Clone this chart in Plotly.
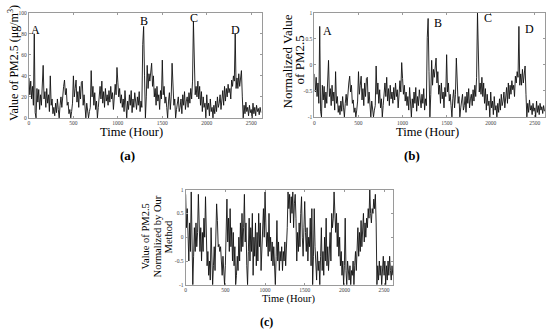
import plotly.graph_objects as go

# Hour grid (one reading every 10 hours)
hours = list(range(0, 2620, 10))

# PM2.5 concentration (ug/m3)
pm25 = [
    38, 22, 35, 18, 30, 12, 80, 5, 0, 28,
    15, 27, 8, 22, 12, 30, 50, 18, 25, 10,
    28, 14, 22, 6, 40, 12, 18, 4, 10, 2,
    14, 5, 18, 8, 0, 12, 20, 10, 24, 30,
    36, 22, 28, 12, 15, 4, 8, 0, 6, 14,
    40, 20, 28, 36, 15, 25, 10, 30, 18, 34,
    35, 12, 22, 8, 0, 14, 2, 0, 6, 10,
    45, 20, 30, 12, 24, 8, 16, 0, 10, 22,
    30, 18, 35, 14, 25, 10, 28, 16, 22, 12,
    26, 15, 30, 18, 24, 8, 20, 32, 22, 48,
    34, 20, 28, 14, 22, 10, 18, 6, 26, 12,
    0, 16, 8, 22, 12, 26, 5, 18, 10, 24,
    14, 8, 20, 12, 25, 6, 16, 10, 70, 87,
    40, 0, 20, 50, 28, 42, 35, 48, 52, 30,
    40, 20, 28, 12, 30, 16, 22, 8, 26, 18,
    55, 22, 30, 14, 20, 10, 0, 16, 24, 8,
    20, 52, 30, 12, 18, 0, 8, 14, 20, 6,
    10, 18, 4, 22, 12, 25, 8, 16, 20, 10,
    24, 14, 28, 18, 35, 92, 40, 22, 30, 20,
    35, 18, 30, 12, 25, 6, 20, 10, 14, 0,
    22, 8, 14, 2, 18, 6, 10, 0, 12, 4,
    16, 6, 20, 10, 14, 22, 8, 18, 26, 12,
    30, 16, 28, 20, 32, 24, 28, 18, 36, 30,
    40, 35, 80, 28, 38, 28, 42, 30, 40, 45,
    20, 0, 12, 4, 15, 6, 10, 2, 12, 5,
    8, 0, 14, 4, 10, 2, 12, 6, 9, 3,
    10, 5,
]

# Values normalized by "our method"
pm25_ours = [
    0.9, 0.2, 0.6, -0.1, -0.5, 0.3, -0.3, 0.95, -0.6, -1.0,
    -0.4, 0.2, -0.3, 0.3, -0.2, 0.1, 0.9, 0.4, -0.3, 0.2,
    -0.5, 0.1, -0.3, 0.4, 0.0, 0.85, -0.2, -0.6, -0.3, -0.8,
    -0.5, -0.9, 0.2, -0.4, -1.0, -0.6, -0.2, -0.7, 0.1, 0.7,
    0.35, -0.2, -0.15, -0.3, -0.2, -0.5, -0.8, -0.4, -0.9, -1.0,
    -0.6, 0.3, 0.8, -0.1, 0.4, -0.3, 0.6, -0.2, 0.2, -0.5,
    0.1, -0.6, -0.2, -1.0, -0.8, -0.4, -0.7, 0.0, -0.5, 0.3,
    -0.3, 0.5, -0.2, 0.2, 0.9, -0.1, 0.3, -0.6, -1.0, -0.3,
    0.4, -0.5, 0.2, -0.3, 0.5, -0.8, 0.0, -0.4, 0.3, -0.6,
    0.1, -0.5, 0.5, -0.2, 0.3, -0.7, -0.1, 0.2, 0.6, 0.0,
    0.95, 0.3, -0.2, 0.1, -0.4, 0.5, -0.3, 0.0, -0.5, -0.1,
    -0.6, -0.2, -0.8, -1.0, -0.4, 0.35, -0.5, -0.1, -0.7, -0.3,
    -0.5, -0.2, -0.7, -0.3, -0.5, -0.1, -0.6, -0.3, 0.2, 0.95,
    0.6, 0.9, 0.3, 0.85, 0.5, 0.95, 0.2, 0.7, 0.9, 0.4,
    -0.5, 0.1, -0.3, 0.3, -0.2, 0.5, 0.85, 0.0, -0.4, 0.2,
    0.75, 0.1, -0.3, 0.2, -0.5, 0.0, -0.2, 0.4, -0.6, 0.6,
    -1.0, -0.4, 0.6, -0.2, -0.6, -0.9, -0.3, -0.7, -0.5, -1.0,
    -0.4, 0.2, -0.7, -0.3, -0.8, 0.0, -0.5, 0.4, -0.6, -0.2,
    -0.7, -0.3, 0.1, -0.5, 0.5, 0.2, 0.4, 0.95, 0.5, 0.1,
    0.5, -0.2, 0.3, -0.4, 0.0, -0.6, -0.3, -0.8, -0.5, -1.0,
    -0.6, 0.4, -0.7, -1.0, -0.5, -0.8, -0.9, -0.6, -1.0, -0.7,
    -0.8, -0.5, -1.0, -0.6, -0.3, -0.7, -0.2, 0.2, -0.4, 0.1,
    -0.3, 0.35, -0.2, 0.1, 0.5, -0.1, 0.3, 0.0, 0.4, 0.2,
    0.6, 0.4, 1.0, 0.5, 0.3, 0.6, 0.5, 0.8, 0.6, 0.9,
    0.3, -1.0, -0.6, -0.9, -0.5, -0.8, -0.6, -1.0, -0.7, -0.4,
    -0.8, -0.5, -1.0, -0.6, -0.9, -0.5, -0.8, -0.4, -0.7, -0.9,
    -0.6, -0.8,
]

# Min-max normalized PM2.5 for panel (b)
lo, hi = min(pm25), max(pm25)
pm25_norm = [2 * (v - lo) / (hi - lo) - 1 for v in pm25]

x_ticks = [0, 500, 1000, 1500, 2000, 2500]
y_ticks_a = [0, 20, 40, 60, 80, 100]
y_ticks_n = [-1, -0.5, 0, 0.5, 1]
y_ticktext_n = ["-1", "-0.5", "0", "0.5", "1"]

event_labels = ["A", "B", "C", "D"]
events_a = [(75, 84), (1295, 92), (1862, 95), (2322, 84)]
events_b = [(150, 0.66), (1400, 0.81), (1965, 0.9), (2440, 0.68)]
events_c = [(75, 1.09), (1305, 1.09), (1880, 1.09), (2320, 1.09)]

W, H = 550, 333
SERIF = "Liberation Serif, Times New Roman, serif"
LINE = "#111111"
FRAME = "#9a9a9a"

fig = go.Figure()
fig.add_trace(go.Scatter(x=hours, y=pm25, mode="lines", xaxis="x", yaxis="y",
                         line=dict(color=LINE, width=0.9), showlegend=False))
fig.add_trace(go.Scatter(x=hours, y=pm25_norm, mode="lines", xaxis="x2", yaxis="y2",
                         line=dict(color=LINE, width=0.9), showlegend=False))
fig.add_trace(go.Scatter(x=hours, y=pm25_ours, mode="lines", xaxis="x3", yaxis="y3",
                         line=dict(color=LINE, width=0.9), showlegend=False))


def px(x, y):
    return x / W, 1 - y / H


def axis(domain, anchor, rng, tickvals, ticktext=None):
    d = dict(domain=domain, anchor=anchor, range=rng, tickvals=tickvals,
             showgrid=False, zeroline=False, showline=True, linecolor=FRAME,
             linewidth=1, mirror="allticks", ticks="inside", ticklen=2,
             tickcolor=FRAME, tickfont=dict(family=SERIF, size=5.5, color="#444"),
             fixedrange=True)
    if ticktext is not None:
        d["ticktext"] = ticktext
    return d


xa = (px(28, 0)[0], px(261, 0)[0]); ya = (px(0, 117)[1], px(0, 10)[1])
xb = (px(314, 0)[0], px(545, 0)[0]); yb = (px(0, 116)[1], px(0, 10)[1])
xc = (px(185, 0)[0], px(393, 0)[0]); yc = (px(0, 287)[1], px(0, 190)[1])

layout = dict(
    width=W, height=H, margin=dict(l=0, r=0, t=0, b=0),
    paper_bgcolor="white", plot_bgcolor="white",
    xaxis=axis(xa, "y", [0, 2616], x_ticks),
    yaxis=axis(ya, "x", [0, 100], y_ticks_a),
    xaxis2=axis(xb, "y2", [0, 2616], x_ticks),
    yaxis2=axis(yb, "x2", [-1, 1], y_ticks_n, y_ticktext_n),
    xaxis3=axis(xc, "y3", [0, 2616], x_ticks),
    yaxis3=axis(yc, "x3", [-1, 1], y_ticks_n, y_ticktext_n),
)
fig.update_layout(**layout)

ann = []


def text(x, y, s, size, angle=0, bold=False):
    fx, fy = px(x, y)
    ann.append(dict(x=fx, y=fy, xref="paper", yref="paper", text=f"<b>{s}</b>" if bold else s,
                    showarrow=False, xanchor="center", yanchor="middle", textangle=angle,
                    font=dict(family=SERIF, size=size, color="black")))


# panel (a)
text(13, 61, "Value of PM2.5 (μg/m<sup>3</sup>)", 12, -90)
text(131, 131, "Time (Hour)", 12.5)
text(127, 155, "(a)", 13, bold=True)
# panel (b)
text(287, 59, "Normalized Value", 13, -90)
text(299, 58, "of PM2.5", 13, -90)
text(427, 131, "Time (Hour)", 12.5)
text(412, 155, "(b)", 13, bold=True)
# panel (c)
text(145, 238, "Value of PM2.5", 10.5, -90)
text(157, 238, "Normalized by Our", 10.5, -90)
text(168, 238, "Method", 10.5, -90)
text(288, 301.5, "Time (Hour)", 10.5)
text(266, 325, "(c)", 12, bold=True)

for lab, (hx, hv) in zip(event_labels, events_a):
    ann.append(dict(x=hx, y=hv, xref="x", yref="y", text=lab, showarrow=False,
                    font=dict(family=SERIF, size=12, color="black")))
for lab, (hx, hv) in zip(event_labels, events_b):
    ann.append(dict(x=hx, y=hv, xref="x2", yref="y2", text=lab, showarrow=False,
                    font=dict(family=SERIF, size=12, color="black")))
for lab, (hx, hv) in zip(event_labels, events_c):
    ann.append(dict(x=hx, y=hv, xref="x3", yref="y3", text=lab, showarrow=False,
                    font=dict(family=SERIF, size=11, color="black")))

fig.update_layout(annotations=ann)
fig.write_html("out.html", config={"displayModeBar": False},
               post_script="document.body.style.margin='0';")
